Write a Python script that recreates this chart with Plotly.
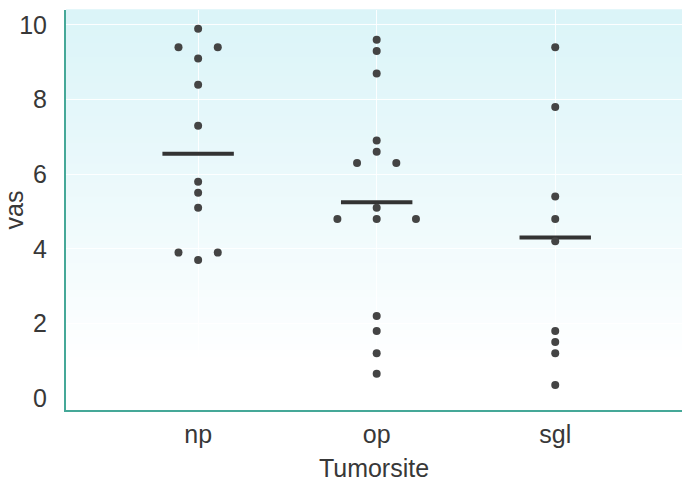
import plotly.graph_objects as go

categories = ["np", "op", "sgl"]
np_vals = [9.9, 9.4, 9.4, 9.1, 8.4, 7.3, 5.8, 5.5, 5.1, 3.9, 3.9, 3.7]
op_vals = [9.6, 9.3, 8.7, 6.9, 6.6, 6.3, 6.3, 5.1, 4.8, 4.8, 4.8, 2.2, 1.8, 1.2, 0.65]
sgl_vals = [9.4, 7.8, 5.4, 4.8, 4.2, 1.8, 1.5, 1.2, 0.35]
medians = [6.55, 5.25, 4.3]
y_ticks = [0, 2, 4, 6, 8, 10]

series = [np_vals, op_vals, sgl_vals]

# dot-plot layout: identical values are spread side by side
STEP = 0.22
xs, ys = [], []
for ci, vals in enumerate(series):
    counts = {}
    for v in vals:
        counts[v] = counts.get(v, 0) + 1
    seen = {}
    for v in vals:
        n = counts[v]
        k = seen.get(v, 0)
        seen[v] = k + 1
        xs.append(ci + (k - (n - 1) / 2) * STEP)
        ys.append(v)

mx, my = [], []
for ci, m in enumerate(medians):
    mx += [ci - 0.2, ci + 0.2, None]
    my += [m, m, None]

fig = go.Figure()
fig.add_trace(go.Scatter(x=mx, y=my, mode="lines",
                         line=dict(color="#333333", width=4),
                         hoverinfo="skip", showlegend=False))
fig.add_trace(go.Scatter(x=xs, y=ys, mode="markers",
                         marker=dict(color="#444444", size=8),
                         showlegend=False))

# vertical gradient background (light cyan at top -> white lower down)
N = 60
top = (218, 244, 248)
for i in range(N):
    y0 = i / N
    y1 = (i + 1) / N
    t = max(0.0, (y0 - 0.12) / 0.88)
    t = min(1.0, t) ** 0.9
    c = tuple(int(round(255 + (tc - 255) * t)) for tc in top)
    fig.add_shape(type="rect", xref="x domain", yref="y domain",
                  x0=0, x1=1, y0=y0, y1=y1 + 0.002, layer="below",
                  line=dict(width=0), fillcolor="rgb(%d,%d,%d)" % c)

font = "Liberation Sans, Arial, sans-serif"
fig.update_layout(
    width=682, height=483,
    margin=dict(l=66, r=0, t=10, b=73),
    paper_bgcolor="white", plot_bgcolor="white",
    font=dict(family=font, size=25, color="#383838"),
    xaxis=dict(range=[-0.74, 2.71], tickvals=[0, 1, 2], ticktext=categories,
               automargin=False,
               showline=True, linecolor="#45a898", linewidth=2,
               showgrid=True, gridcolor="rgba(255,255,255,0.9)", gridwidth=1,
               zeroline=False, ticks="", ticklabelstandoff=1,
               tickfont=dict(size=25),
               title=dict(text="Tumorsite", standoff=12, font=dict(size=25))),
    yaxis=dict(range=[-0.32, 10.4], tickvals=y_ticks,
               automargin=False,
               showline=True, linecolor="#45a898", linewidth=2,
               showgrid=True, gridcolor="rgba(255,255,255,0.9)", gridwidth=1,
               zeroline=False, ticks="", ticklabelstandoff=12,
               tickfont=dict(size=25),
               title=dict(text="vas", standoff=4, font=dict(size=25))),
)

fig.write_html("out.html",
               config={"displayModeBar": False},
               post_script="document.body.style.margin='0';document.body.style.padding='0';")
